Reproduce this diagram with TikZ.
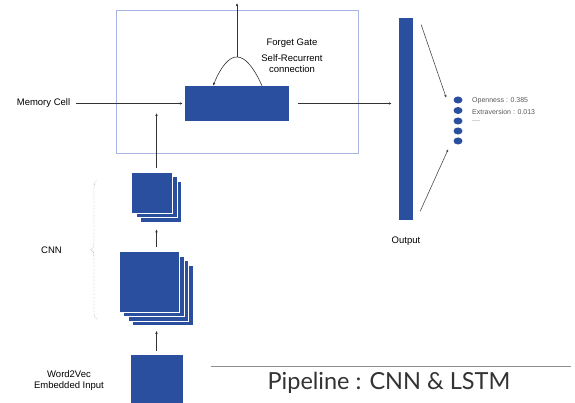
\documentclass[tikz,border=0pt]{standalone}
\usepackage{fontspec}
\setmainfont{Liberation Sans}
\newfontfamily\titlefont{Lato}
\usepackage{xcolor}
\usepackage{tikz}
\usetikzlibrary{arrows.meta, positioning, calc, decorations.pathreplacing, shapes.geometric}
\definecolor{cnnblue}{RGB}{42,79,159}
\definecolor{framecol}{RGB}{168,180,228}

\begin{document}
\begin{tikzpicture}[x=1pt, y=-1pt, font=\fontsize{9.5}{11}\selectfont,
  arr/.style={-{Latex[length=3pt,width=2.6pt]}, line width=0.6pt, black!80},
  blk/.style={fill=cnnblue, draw=white, line width=0.6pt, inner sep=0pt, minimum width=#1, minimum height=#1},
  dot/.style={ellipse, fill=cnnblue, inner sep=0pt, minimum width=9pt, minimum height=7pt},
  rank/.style={anchor=west, inner sep=0pt, text=black!65, font=\fontsize{7}{7}\selectfont},
  lbl/.style={inner sep=1pt, align=center}]
  \useasboundingbox (0,0) rectangle (575,403);

  % LSTM block
  \node[draw=framecol, line width=0.8pt, minimum width=242pt, minimum height=143pt] (lstm) at (237,81.5) {};
  \node[fill=cnnblue, inner sep=0pt, minimum width=104pt, minimum height=35pt] (cell) at (237,103.5) {};
  \node[lbl] (mem) at (43.5,103.5) {Memory Cell};
  \node[lbl] (forget) at (292,43) {Forget Gate};
  \node[lbl] (selfrec) at (292,63.5) {Self-Recurrent\\connection};
  \coordinate (peak) at (237,57);
  \coordinate (topout) at (237,3);
  \coordinate (lstmin) at (156.5,113);

  % Output layer
  \node[fill=cnnblue, inner sep=0pt, minimum width=14pt, minimum height=202pt] (out) at (406,119) {};
  \node[lbl] (outlbl) at (406,241) {Output};
  \foreach \i/\y in {1/100,2/110.5,3/121,4/131,5/141}
    \node[dot] (d\i) at (458,\y) {};
  \node[rank] (r1) at (472,101) {Openness : 0.385};
  \node[rank] (r2) at (472,112) {Extraversion : 0.013};
  \node[rank] (r3) at (472,121) {....};

  % CNN stacks
  \foreach \i in {3,2,1}
    \node[blk=60.5pt] (conv1-\i) at ({149.5+\i*4.4},{282+\i*4.4}) {};
  \node[blk=60.5pt] (conv1) at (149.5,282) {};
  \foreach \i in {2,1}
    \node[blk=41pt] (conv2-\i) at ({152+\i*4.5},{192.5+\i*4.5}) {};
  \node[blk=41pt] (conv2) at (152,192.5) {};
  \node[blk=53pt] (inp) at (156.5,380.5) {};
  \node[lbl] (cnnlbl) at (51.5,250) {CNN};
  \node[lbl] (inplbl) at (69,380.5) {Word2Vec\\Embedded Input};
  \draw[decorate, decoration={brace, amplitude=6pt}, densely dotted, black!60] (97,319) -- (97,180);

  % Connections
  \draw[arr, shorten <=3pt, shorten >=5pt] (inp.north) -- (inp |- conv1-3.south);
  \draw[arr, shorten <=4pt, shorten >=7pt] (inp |- conv1.north) -- (inp |- conv2-2.south);
  \draw[arr, shorten <=4pt] (inp |- conv2.north) -- (lstmin);
  \draw[arr, shorten <=5pt, shorten >=2pt] (mem.east) -- (cell.west);
  \draw[arr, shorten <=9pt, shorten >=7pt] (cell.east) -- (cell.east -| out.west);
  \draw[arr] ($(cell.north)+(25,0)$) .. controls ($(cell.north)+(8,-38)$) and ($(cell.north)+(-8,-38)$) .. ($(cell.north)+(-24,0)$);
  \draw[arr] (peak) -- (topout);
  \draw[arr, black!70] ($(out.north east)+(8,7)$) -- ($(d1.west)+(-7,-2)$);
  \draw[arr, black!70] ($(out.south east)+(7,-9)$) -- ($(d5.west)+(-5,8)$);

  % Title
  \draw[black!45, line width=0.6pt] (211,366) -- (571,366);
  \node[text=black!80, font=\titlefont\fontsize{23.5}{26}\selectfont] (pipe) at (389,383) {Pipeline : CNN \& LSTM};
\end{tikzpicture}
\end{document}
